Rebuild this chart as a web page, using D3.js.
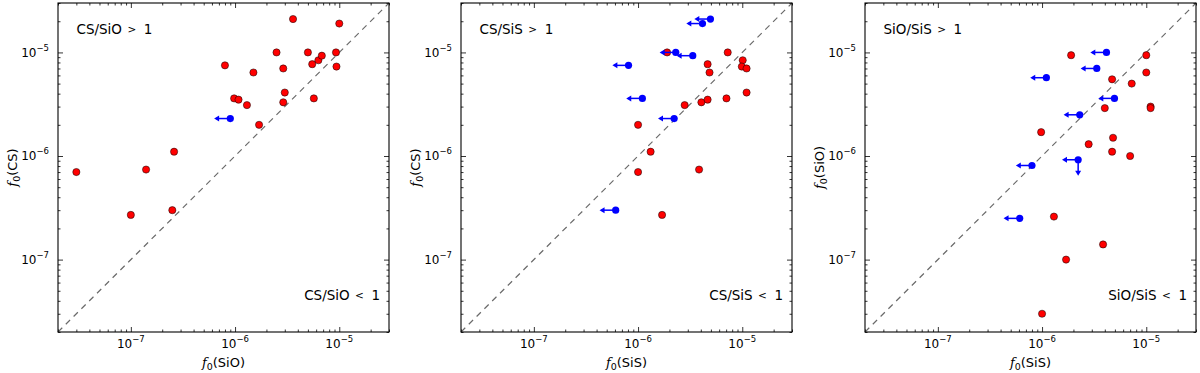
<!DOCTYPE html>
<html><head><meta charset="utf-8">
<script src="https://cdn.jsdelivr.net/npm/d3@7"></script>
<style>body{margin:0;background:#fff}svg{display:block}</style>
</head><body><svg id="c" width="1200" height="373"></svg>
<script>
// ---------- axis data ----------
const axisDomain = [2e-8, 3e-5];
const majorTickValues = [1e-7, 1e-6, 1e-5];
const majorTickExponents = ["\u22127", "\u22126", "\u22125"];

// ---------- panel 1: CS vs SiO ----------
const csSio_detSiO = [3e-8, 1e-7, 1.4e-7, 2.5e-7, 2.6e-7, 8e-7, 9.8e-7, 1.08e-6, 1.3e-6, 1.5e-6, 1.7e-6, 2.5e-6, 2.9e-6, 3e-6, 2.9e-6, 3.6e-6, 5e-6, 5.5e-6, 5.7e-6, 6.3e-6, 6.8e-6, 9.3e-6, 9.4e-6, 1e-5];
const csSio_detCS  = [7e-7, 2.7e-7, 7.4e-7, 3e-7, 1.1e-6, 7.5e-6, 3.6e-6, 3.5e-6, 3.1e-6, 6.4e-6, 2e-6, 1e-5, 7e-6, 4.1e-6, 3.3e-6, 2.1e-5, 1e-5, 7.7e-6, 3.6e-6, 8.4e-6, 9.3e-6, 1e-5, 7.3e-6, 1.9e-5];
const csSio_limSiO = [9e-7];
const csSio_limCS  = [2.3e-6];
const csSio_limDown = [false];

// ---------- panel 2: CS vs SiS ----------
const csSis_detSiS = [1e-6, 1e-6, 1.32e-6, 1.7e-6, 1.9e-6, 2.8e-6, 3.85e-6, 4.05e-6, 4.65e-6, 4.85e-6, 4.65e-6, 7.05e-6, 7.25e-6, 1.01e-5, 9.9e-6, 1.1e-5, 1.1e-5];
const csSis_detCS  = [2e-6, 7e-7, 1.1e-6, 2.7e-7, 1e-5, 3.1e-6, 7.4e-7, 3.3e-6, 7.7e-6, 6.4e-6, 3.5e-6, 3.6e-6, 1e-5, 8.4e-6, 7.3e-6, 7e-6, 4.1e-6];
const csSis_limSiS = [4.95e-6, 4.15e-6, 2.3e-6, 3.35e-6, 8.1e-7, 1.1e-6, 2.22e-6, 6.1e-7];
const csSis_limCS  = [2.1e-5, 1.9e-5, 1e-5, 9.3e-6, 7.5e-6, 3.6e-6, 2.3e-6, 3e-7];
const csSis_limDown = [false, false, false, false, false, false, false, false];

// ---------- panel 3: SiO vs SiS ----------
const sioSis_detSiS = [1.9e-6, 4.7e-6, 7.25e-6, 1e-5, 1e-5, 1.1e-5, 1.1e-5, 4e-6, 9.8e-7, 2.8e-6, 4.8e-6, 4.7e-6, 7e-6, 1.3e-6, 3.85e-6, 1.7e-6, 1e-6];
const sioSis_detSiO = [9.4e-6, 5.5e-6, 5e-6, 9.4e-6, 6.4e-6, 3e-6, 2.9e-6, 2.9e-6, 1.7e-6, 1.3e-6, 1.5e-6, 1.1e-6, 1e-6, 2.6e-7, 1.4e-7, 1e-7, 3e-8];
const sioSis_limSiS = [4.15e-6, 3.35e-6, 1.1e-6, 4.95e-6, 2.3e-6, 2.22e-6, 8e-7, 6.1e-7];
const sioSis_limSiO = [1e-5, 7e-6, 5.7e-6, 3.6e-6, 2.5e-6, 9.2e-7, 8.1e-7, 2.5e-7];
const sioSis_limDown = [false, false, false, false, false, true, false, false];

// ---------- labels ----------
const panelXNames = ["SiO", "SiS", "SiS"];
const panelYNames = ["CS", "CS", "SiO"];
const panelRatioNames = ["CS/SiO", "CS/SiS", "SiO/SiS"];

// ---------- styles / layout ----------
const ARROW_FACTOR = 0.7;
const panelLefts = [58, 461, 865];
const panelWidth = 331;
const plotTop = 3, plotBottom = 332;
const FONT = "'DejaVu Sans', sans-serif";

const panels = [
  {detX: csSio_detSiO, detY: csSio_detCS, limX: csSio_limSiO, limY: csSio_limCS, limDown: csSio_limDown},
  {detX: csSis_detSiS, detY: csSis_detCS, limX: csSis_limSiS, limY: csSis_limCS, limDown: csSis_limDown},
  {detX: sioSis_detSiS, detY: sioSis_detSiO, limX: sioSis_limSiS, limY: sioSis_limSiO, limDown: sioSis_limDown}
];

const svg = d3.select("#c");
svg.append("rect").attr("width", 1200).attr("height", 373).attr("fill", "#fff");

function fLabel(sel, name) {
  sel.append("tspan").attr("font-family", "'DejaVu Serif', serif").attr("font-style", "italic").text("f");
  sel.append("tspan").attr("font-size", 9.5).attr("dy", 3).text("0");
  sel.append("tspan").attr("dy", -3).text("(" + name + ")");
}

function ratioText(sel, name, sign) {
  sel.append("tspan").text(name);
  sel.append("tspan").attr("dx", 5.4).attr("dy", -1).attr("font-size", 10.5).text(sign);
  sel.append("tspan").attr("dx", 7.5).attr("dy", 1).text("1");
}

panels.forEach((p, i) => {
  const L = panelLefts[i], R = L + panelWidth;
  const x = d3.scaleLog().domain(axisDomain).range([L, R]);
  const y = d3.scaleLog().domain(axisDomain).range([plotBottom, plotTop]);
  const g = svg.append("g");

  const allTicks = x.ticks();
  const isMajor = v => Math.abs(Math.log10(v) - Math.round(Math.log10(v))) < 1e-9;
  const minor = allTicks.filter(v => !isMajor(v));
  const major = allTicks.filter(isMajor);

  // ticks (inward, all four sides)
  const mk = (axisFn, scale, vals, size, transform) => {
    const a = axisFn(scale).tickValues(vals).tickSize(-size).tickFormat("");
    const ag = g.append("g").attr("transform", transform).call(a);
    ag.select(".domain").remove();
    ag.selectAll("line").attr("stroke", "#000").attr("stroke-width", 0.8);
  };
  mk(d3.axisBottom, x, major, 5, `translate(0,${plotBottom})`);
  mk(d3.axisBottom, x, minor, 2.5, `translate(0,${plotBottom})`);
  mk(d3.axisTop, x, major, 5, `translate(0,${plotTop})`);
  mk(d3.axisTop, x, minor, 2.5, `translate(0,${plotTop})`);
  mk(d3.axisLeft, y, major, 5, `translate(${L},0)`);
  mk(d3.axisLeft, y, minor, 2.5, `translate(${L},0)`);
  mk(d3.axisRight, y, major, 5, `translate(${R},0)`);
  mk(d3.axisRight, y, minor, 2.5, `translate(${R},0)`);

  // diagonal 1:1 line
  g.append("line")
    .attr("x1", x(axisDomain[0])).attr("y1", y(axisDomain[0]))
    .attr("x2", x(axisDomain[1])).attr("y2", y(axisDomain[1]))
    .attr("stroke", "#6a6a6a").attr("stroke-width", 1.2).attr("stroke-dasharray", "6,5");

  // tick labels
  majorTickValues.forEach((v, k) => {
    const t = g.append("text").attr("x", x(v)).attr("y", 348)
      .attr("text-anchor", "middle").attr("font-family", FONT).attr("font-size", 12).attr("fill", "#000");
    t.append("tspan").text("10");
    t.append("tspan").attr("font-size", 8.5).attr("dy", -6).text(majorTickExponents[k]);
    const ty = g.append("text").attr("x", L - 9).attr("y", y(v) + 4.3)
      .attr("text-anchor", "end").attr("font-family", FONT).attr("font-size", 12).attr("fill", "#000");
    ty.append("tspan").text("10");
    ty.append("tspan").attr("font-size", 8.5).attr("dy", -6).text(majorTickExponents[k]);
  });

  // axis labels
  const xl = g.append("text").attr("x", (L + R) / 2).attr("y", 367)
    .attr("text-anchor", "middle").attr("font-family", FONT).attr("font-size", 13).attr("fill", "#000");
  fLabel(xl, panelXNames[i]);
  const yl = g.append("text").attr("transform", `translate(${L - 41},${(plotTop + plotBottom) / 2}) rotate(-90)`)
    .attr("text-anchor", "middle").attr("font-family", FONT).attr("font-size", 13).attr("fill", "#000");
  fLabel(yl, panelYNames[i]);

  // ratio annotations
  const a1 = g.append("text").attr("x", L + 18.5).attr("y", 33.5)
    .attr("font-family", FONT).attr("font-size", 13.5).attr("fill", "#000");
  ratioText(a1, panelRatioNames[i], ">");
  const a2 = g.append("text").attr("x", R - 9).attr("y", 300)
    .attr("text-anchor", "end").attr("font-family", FONT).attr("font-size", 13.5).attr("fill", "#000");
  ratioText(a2, panelRatioNames[i], "<");

  // detections
  g.append("g").selectAll("circle").data(p.detX.map((v, k) => [v, p.detY[k]])).join("circle")
    .attr("cx", d => x(d[0])).attr("cy", d => y(d[1])).attr("r", 3.6)
    .attr("fill", "#ff0000").attr("stroke", "#000").attr("stroke-width", 0.5);

  // upper limits
  const lim = p.limX.map((v, k) => ({xv: v, yv: p.limY[k], down: p.limDown[k]}));
  const lg = g.append("g");
  lim.forEach(d => {
    const cx = x(d.xv), cy = y(d.yv), ex = x(d.xv * ARROW_FACTOR);
    lg.append("line").attr("x1", cx).attr("y1", cy).attr("x2", ex + 2).attr("y2", cy)
      .attr("stroke", "#0000ff").attr("stroke-width", 1.5);
    lg.append("path").attr("d", `M${ex},${cy}L${ex + 5},${cy - 3}L${ex + 5},${cy + 3}Z`).attr("fill", "#0000ff");
    if (d.down) {
      const ey = y(d.yv * ARROW_FACTOR);
      lg.append("line").attr("x1", cx).attr("y1", cy).attr("x2", cx).attr("y2", ey - 2)
        .attr("stroke", "#0000ff").attr("stroke-width", 1.5);
      lg.append("path").attr("d", `M${cx},${ey}L${cx - 3},${ey - 5}L${cx + 3},${ey - 5}Z`).attr("fill", "#0000ff");
    }
    lg.append("circle").attr("cx", cx).attr("cy", cy).attr("r", 3.6).attr("fill", "#0000ff");
  });

  // frame
  g.append("rect").attr("x", L).attr("y", plotTop).attr("width", R - L).attr("height", plotBottom - plotTop)
    .attr("fill", "none").attr("stroke", "#000").attr("stroke-width", 1.1);
});
</script></body></html>
